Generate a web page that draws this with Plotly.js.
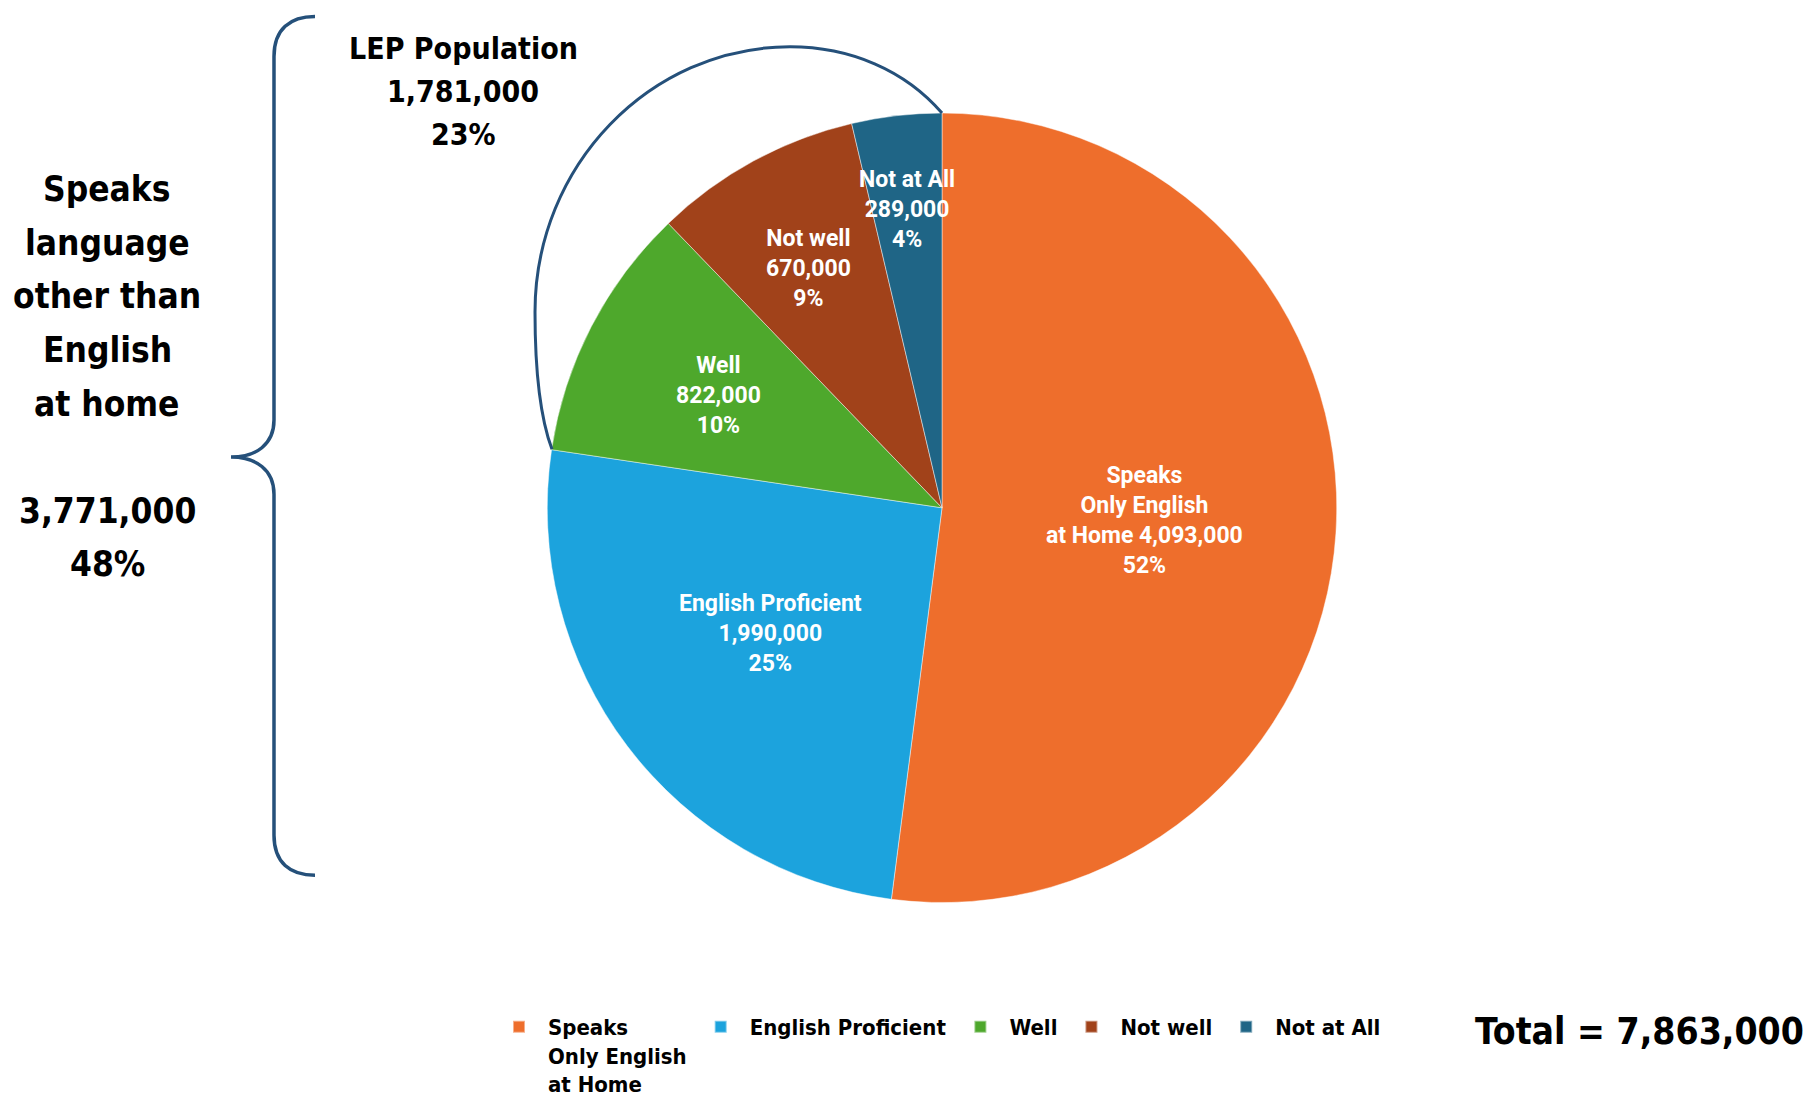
<!DOCTYPE html>
<html>
<head>
<meta charset="utf-8">
<script src="https://cdn.plot.ly/plotly-3.0.1.min.js"></script>
<style>
  html, body { margin: 0; padding: 0; background: #ffffff; }
  #chart { width: 1819px; height: 1105px; }
</style>
</head>
<body>
<div id="chart"></div>
<script>
// ---------------- DATA ----------------
const categories = ['Speaks<br>Only English<br>at Home', 'English Proficient', 'Well', 'Not well', 'Not at All'];
const sliceNames = ['Speaks<br>Only English<br>at Home', 'English Proficient', 'Well', 'Not well', 'Not at All'];
const populations = [4093000, 1990000, 822000, 670000, 289000];
const totalPopulation = 7863000;
const lepCategories = ['Well', 'Not well', 'Not at All'];
const otherLanguageCategories = ['English Proficient', 'Well', 'Not well', 'Not at All'];
const otherLanguageTitle = ['Speaks', 'language', 'other than', 'English', 'at home'];
const lepTitle = 'LEP Population';

// ---------------- STYLE / LAYOUT ----------------
const W = 1819, H = 1105;
const sliceColors = ['#EE6E2C', '#1CA3DD', '#4EA82C', '#A1421A', '#1F6586'];
const NARROW = "'Liberation Sans Narrow', 'DejaVu Sans Condensed', 'Arial Narrow', sans-serif";
const LABELFONT = "Roboto, 'Liberation Sans', Arial, sans-serif";
const braceColor = '#25507A';

const cx = 942, cy = 521, R = 405;            // pie centre / radius in pixels
const labelRadiusFrac = [0.5, 0.53, 0.62, 0.69, 0.76];

const X = px => px / W;
const Y = py => 1 - py / H;
const fmt = n => n.toLocaleString('en-US');
const pct = n => Math.round(n / totalPopulation * 100) + '%';
const sumOf = names => names.reduce((s, nm) => s + populations[categories.indexOf(nm)], 0);

// ---------------- PIE ----------------
const pie = {
  type: 'pie',
  labels: categories,
  values: populations,
  sort: false,
  direction: 'clockwise',
  rotation: 0,
  textinfo: 'none',
  hoverinfo: 'label+value+percent',
  marker: { colors: sliceColors, line: { color: 'rgba(255,255,255,0.45)', width: 1 } },
  domain: { x: [X(cx - R), X(cx + R)], y: [Y(cy + R), Y(cy - R)] },
  showlegend: true
};

// slice labels, positioned at the mid-angle of each slice
const annotations = [];
let cum = 0;
const valueSum = populations.reduce((a, b) => a + b, 0);
populations.forEach((v, i) => {
  const mid = (cum + v / 2) / valueSum * 2 * Math.PI;
  cum += v;
  const r = R * labelRadiusFrac[i];
  const px = cx + r * Math.sin(mid);
  const py = cy - r * Math.cos(mid);
  let txt;
  if (i === 0) txt = 'Speaks<br>Only English<br>at Home ' + fmt(v) + '<br>' + pct(v);
  else txt = sliceNames[i] + '<br>' + fmt(v) + '<br>' + pct(v);
  annotations.push({
    xref: 'paper', yref: 'paper', x: X(px), y: Y(py),
    xanchor: 'center', yanchor: 'middle', showarrow: false,
    text: '<b>' + txt + '</b>',
    font: { family: LABELFONT, size: 23, color: '#ffffff' }, align: 'center'
  });
});

const otherTotal = sumOf(otherLanguageCategories);
const lepTotal = sumOf(lepCategories);

function textLine(txt, px, py, size) {
  annotations.push({
    xref: 'paper', yref: 'paper', x: X(px), y: Y(py), xanchor: 'center', yanchor: 'middle',
    showarrow: false, align: 'center', text: '<b>' + txt + '</b>',
    font: { family: NARROW, size: size, color: '#000000' }
  });
}
const leftLines = otherLanguageTitle.concat(['', fmt(otherTotal), pct(otherTotal)]);
leftLines.forEach((t, i) => { if (t) textLine(t, 107, 194 + i * 55, 35); });
[lepTitle, fmt(lepTotal), pct(lepTotal)].forEach((t, i) => textLine(t, 463, 50 + i * 44, 30));

annotations.push({
  xref: 'paper', yref: 'paper', x: X(1806), y: Y(1058), xanchor: 'right', yanchor: 'middle',
  showarrow: false,
  text: '<b>Total = ' + fmt(totalPopulation) + '</b>',
  font: { family: NARROW, size: 37, color: '#000000' }
});

// ---------------- DECORATION SHAPES (pixel coords -> paper) ----------------
function pathFrom(cmds) {
  return cmds.map(c => c[0] + ' ' + c.slice(1).map((v, k) => (k % 2 === 0 ? X(v) : Y(v)).toFixed(5)).join(',')).join(' ');
}
const bracePath = pathFrom([
  ['M', 315, 17],
  ['C', 290, 17, 274, 30, 274, 58],
  ['L', 274, 431],
  ['C', 274, 456, 256, 469, 231, 469],
  ['C', 256, 469, 274, 482, 274, 507],
  ['L', 274, 857],
  ['C', 274, 885, 290, 898, 315, 898]
]);
const arcPath = pathFrom([
  ['M', cx, cy - R],
  ['C', 905, 72, 850, 48, 790, 48],
  ['C', 650, 48, 535, 170, 535, 320],
  ['C', 535, 380, 540, 428, 552, 461]
]);

const layout = {
  width: W, height: H,
  margin: { l: 0, r: 0, t: 0, b: 0 },
  paper_bgcolor: '#ffffff',
  showlegend: true,
  legend: {
    orientation: 'h', x: X(490), xanchor: 'left', y: Y(1032), yanchor: 'top',
    font: { family: NARROW, size: 22, color: '#000000', weight: 'bold' },
    traceorder: 'normal', itemclick: false, itemdoubleclick: false,
    valign: 'top', itemsizing: 'constant', tracegroupgap: 0,
    itemwidth: 48
  },
  annotations: annotations,
  shapes: [
    { type: 'path', xref: 'paper', yref: 'paper', path: bracePath, line: { color: braceColor, width: 3.5 } },
    { type: 'path', xref: 'paper', yref: 'paper', path: arcPath, line: { color: braceColor, width: 3 } }
  ]
};

Plotly.newPlot('chart', [pie], layout, { displayModeBar: false, staticPlot: true });
</script>
</body>
</html>
